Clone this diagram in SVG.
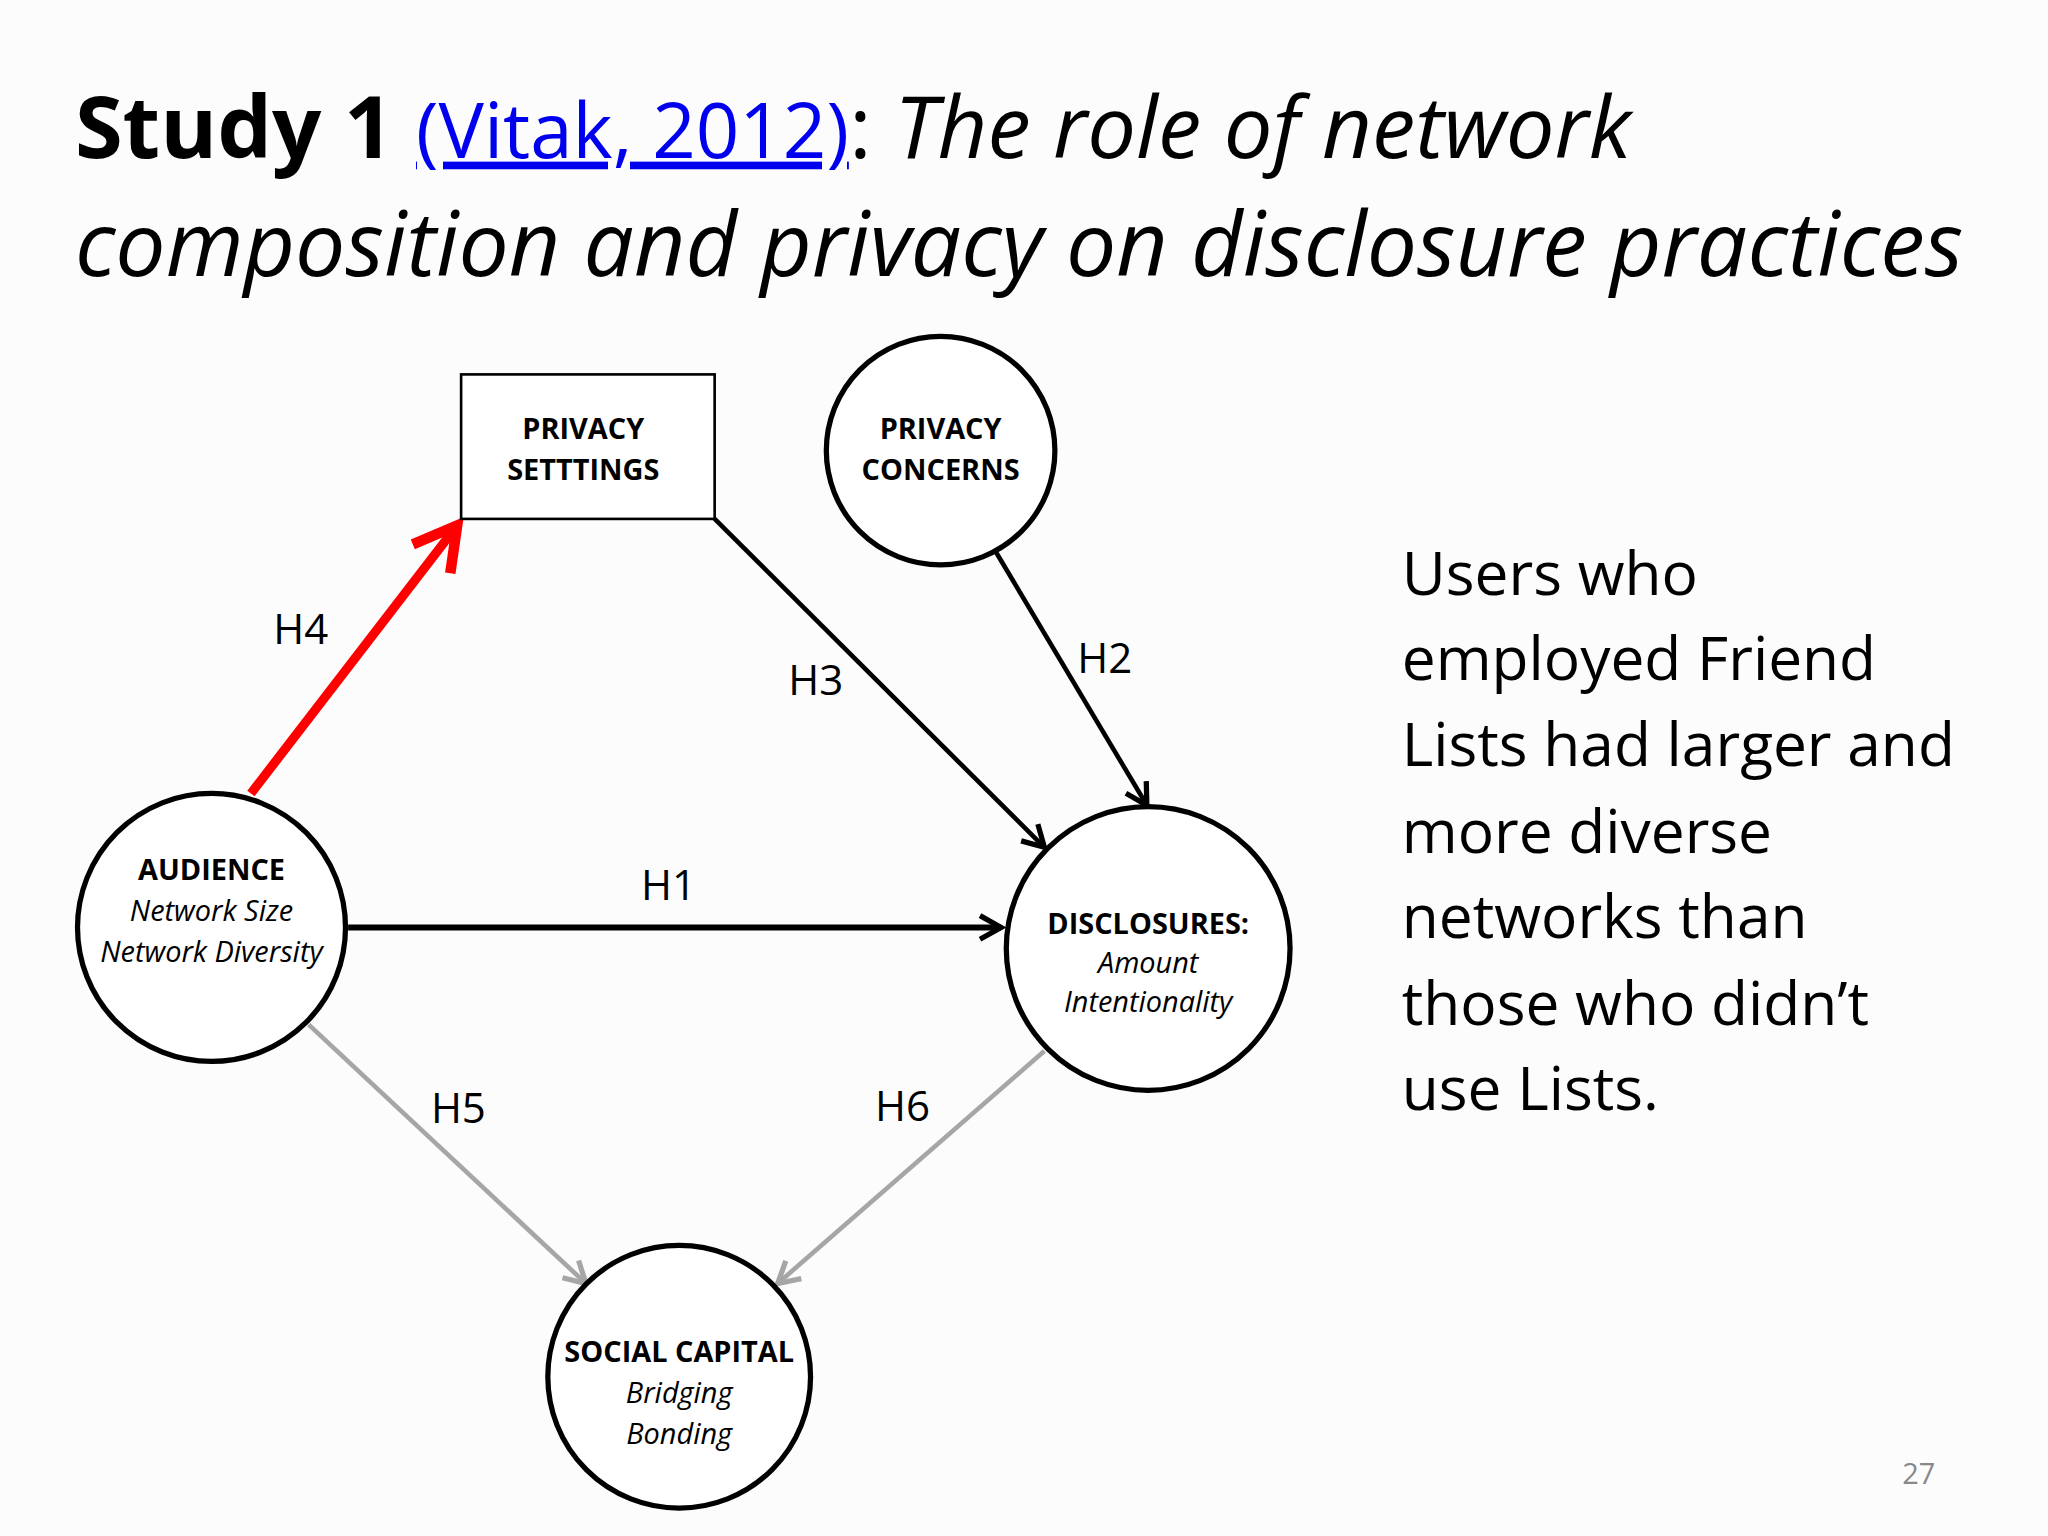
<svg xmlns="http://www.w3.org/2000/svg" width="2048" height="1536" viewBox="0 0 2048 1536">
<style>
.n{fill:#fff;stroke:#000;stroke-width:4}
.b{font-family:"Open Sans","Liberation Sans",sans-serif;font-weight:bold;font-size:22px;text-anchor:middle}
.i{font-family:"Open Sans","Liberation Sans",sans-serif;font-style:italic;font-size:22px;text-anchor:middle}
.h{font-family:"Open Sans","Liberation Sans",sans-serif;font-size:32px;fill:#000;stroke:none}
.r{font-family:"Open Sans","Liberation Sans",sans-serif;font-size:46px}
</style>
<defs>
<marker id="ag" markerWidth="24" markerHeight="24" refX="20" refY="12" orient="auto" markerUnits="userSpaceOnUse" viewBox="0 0 24 24"><path d="M4,3 L20,12 L4,21" fill="none" stroke="#a6a6a6" stroke-width="4"/></marker>
<marker id="ab" markerWidth="24" markerHeight="24" refX="20" refY="12" orient="auto" markerUnits="userSpaceOnUse" viewBox="0 0 24 24"><path d="M4,3 L20,12 L4,21" fill="none" stroke="#000" stroke-width="4"/></marker>
<marker id="ar" markerWidth="44" markerHeight="44" refX="38" refY="22" orient="auto" markerUnits="userSpaceOnUse" viewBox="0 0 44 44"><path d="M6,4 L38,22 L6,40" fill="none" stroke="#f00" stroke-width="8"/></marker>
</defs>
<rect width="2048" height="1536" fill="#fcfcfc"/>
<g transform="scale(1.3137)">
<text x="57" y="120" font-family="Open Sans, Liberation Sans, sans-serif" font-size="66"><tspan font-weight="bold">Study 1 </tspan><tspan fill="#0000ee" text-decoration="underline" font-size="58">(Vitak, 2012)</tspan><tspan>: </tspan><tspan font-style="italic">The role of network</tspan></text>
<text x="57" y="210" font-family="Open Sans, Liberation Sans, sans-serif" font-size="68" font-style="italic">composition and privacy on disclosure practices</text>
<g id="connectors" fill="none">
<line x1="191" y1="604" x2="348" y2="400" stroke="#f00" stroke-width="7" marker-end="url(#ar)"/>
<line x1="544" y1="395" x2="795" y2="645" stroke="#000" stroke-width="3.5" marker-end="url(#ab)"/>
<line x1="758" y1="420" x2="873" y2="613" stroke="#000" stroke-width="3.5" marker-end="url(#ab)"/>
<line x1="265" y1="706" x2="762" y2="706" stroke="#000" stroke-width="4.5" marker-end="url(#ab)"/>
<line x1="235" y1="780" x2="446" y2="977" stroke="#a6a6a6" stroke-width="3.5" marker-end="url(#ag)"/>
<line x1="795" y1="800" x2="592" y2="977" stroke="#a6a6a6" stroke-width="3.5" marker-end="url(#ag)"/>
<text class="h" x="208" y="490">H4</text>
<text class="h" x="600" y="529">H3</text>
<text class="h" x="820" y="512">H2</text>
<text class="h" x="488" y="685">H1</text>
<text class="h" x="328" y="855">H5</text>
<text class="h" x="666" y="853">H6</text>
</g>
<g id="privacy-settings"><rect x="351" y="285" width="193" height="110" fill="#fff" stroke="#000" stroke-width="2"/>
<text class="b" x="444" y="334">PRIVACY</text><text class="b" x="444" y="365">SETTTINGS</text></g>
<g id="privacy-concerns"><circle class="n" cx="716" cy="343" r="87"/>
<text class="b" x="716" y="334">PRIVACY</text><text class="b" x="716" y="365">CONCERNS</text></g>
<g id="audience"><circle class="n" cx="161" cy="706" r="102"/>
<text class="b" x="161" y="670">AUDIENCE</text><text class="i" x="161" y="701">Network Size</text><text class="i" x="161" y="732">Network Diversity</text></g>
<g id="disclosures"><circle class="n" cx="874" cy="722" r="108"/>
<text class="b" x="874" y="711">DISCLOSURES:</text><text class="i" x="874" y="741">Amount</text><text class="i" x="874" y="770">Intentionality</text></g>
<g id="social-capital"><circle class="n" cx="517" cy="1048" r="100"/>
<text class="b" x="517" y="1037">SOCIAL CAPITAL</text><text class="i" x="517" y="1068">Bridging</text><text class="i" x="517" y="1099">Bonding</text></g>
<text class="r" x="1067" y="453">Users who</text>
<text class="r" x="1067" y="518">employed Friend</text>
<text class="r" x="1067" y="583">Lists had larger and</text>
<text class="r" x="1067" y="649">more diverse</text>
<text class="r" x="1067" y="714">networks than</text>
<text class="r" x="1067" y="780">those who didn’t</text>
<text class="r" x="1067" y="845">use Lists.</text>
<text x="1448" y="1130" font-family="Open Sans, Liberation Sans, sans-serif" font-size="22" fill="#888">27</text>
</g>
</svg>
